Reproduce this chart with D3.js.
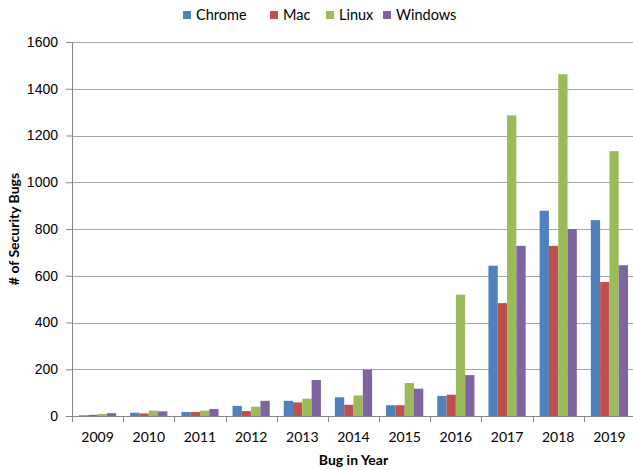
<!doctype html>
<html>
<head>
<meta charset="utf-8">
<title>Security Bugs per Year</title>
<script src="https://cdn.jsdelivr.net/npm/d3@7"></script>
<style>
body { margin: 0; background: #fff; font-family: Lato, 'Open Sans', sans-serif; }
.tick text { font-size: 14px; fill: #000; }
.axis-title { font-size: 14px; font-weight: bold; fill: #000; }
.legend text { font-size: 14.5px; fill: #000; }
</style>
</head>
<body>
<script>
// data
var years   = ['2009','2010','2011','2012','2013','2014','2015','2016','2017','2018','2019'];
var series  = ['Chrome','Mac','Linux','Windows'];
var colors  = ['#4F81BD','#C0504D','#9BBB59','#8064A2'];
var chrome  = [3, 14, 17, 43, 65, 80, 46, 86, 643, 878, 838];
var mac     = [5, 11, 17, 21, 58, 48, 46, 91, 483, 728, 573];
var linux   = [9, 23, 23, 40, 74, 88, 141, 519, 1286, 1462, 1133];
var windows = [12, 20, 30, 65, 154, 198, 117, 175, 728, 800, 645];
var yTicks  = [0, 200, 400, 600, 800, 1000, 1200, 1400, 1600];

var values = [chrome, mac, linux, windows];

var W = 633, H = 470;
var margin = {top: 42, right: -2, bottom: 54, left: 72};
var w = W - margin.left - margin.right;
var h = H - margin.top - margin.bottom;

var svg = d3.select('body').append('svg')
  .attr('width', W)
  .attr('height', H);

var g = svg.append('g')
  .attr('transform', 'translate(' + margin.left + ',' + margin.top + ')');

var x0 = d3.scaleBand()
  .domain(years)
  .range([0, w])
  .paddingInner(0)
  .paddingOuter(0);

// excel gap width 150% -> 4 bars + 1.5 bar widths per category
var barW = x0.bandwidth() / 5.5;
var x1 = d3.scaleBand()
  .domain(series)
  .range([barW * 0.75, barW * 4.75]);

var y = d3.scaleLinear()
  .domain([0, 1600])
  .range([h, 0]);

// gridlines
g.append('g')
  .selectAll('line')
  .data(yTicks.slice(1))
  .enter().append('line')
  .attr('x1', 0).attr('x2', w)
  .attr('y1', function(d) { return Math.round(y(d)) + 0.5; })
  .attr('y2', function(d) { return Math.round(y(d)) + 0.5; })
  .attr('stroke', '#A6A6A6')
  .attr('stroke-width', 1);

// bars
var groups = g.append('g').selectAll('g')
  .data(years)
  .enter().append('g')
  .attr('transform', function(d) { return 'translate(' + x0(d) + ',0)'; });

groups.selectAll('rect')
  .data(function(d, i) {
    return series.map(function(s, j) { return {s: s, j: j, v: values[j][i]}; });
  })
  .enter().append('rect')
  .attr('x', function(d) { return x1(d.s); })
  .attr('width', x1.bandwidth())
  .attr('y', function(d) { return y(d.v); })
  .attr('height', function(d) { return h - y(d.v); })
  .attr('fill', function(d) { return colors[d.j]; });

// y axis
var yAxis = d3.axisLeft(y)
  .tickValues(yTicks)
  .tickFormat(d3.format('d'))
  .tickSize(6)
  .tickPadding(8);

var ya = g.append('g').call(yAxis);
ya.select('.domain').attr('stroke', '#868686');
ya.selectAll('.tick line').attr('stroke', '#868686');

// x axis with ticks at category boundaries
var xa = g.append('g')
  .attr('transform', 'translate(0,' + h + ')');

xa.append('line')
  .attr('x1', 0).attr('x2', w)
  .attr('y1', 0.5).attr('y2', 0.5)
  .attr('stroke', '#868686');

xa.selectAll('.btick')
  .data(years)
  .enter().append('line')
  .attr('class', 'btick')
  .attr('x1', function(d) { return Math.round(x0(d)) + 0.5; })
  .attr('x2', function(d) { return Math.round(x0(d)) + 0.5; })
  .attr('y1', 0).attr('y2', 6)
  .attr('stroke', '#868686');

xa.selectAll('.tick')
  .data(years)
  .enter().append('text')
  .attr('class', 'tick')
  .attr('x', function(d) { return x0(d) + x0.bandwidth() / 2; })
  .attr('y', 26)
  .attr('text-anchor', 'middle')
  .style('font-size', '14px')
  .text(function(d) { return d; });

// axis titles
svg.append('text')
  .attr('class', 'axis-title')
  .attr('x', margin.left + w / 2)
  .attr('y', 465)
  .attr('text-anchor', 'middle')
  .text('Bug in Year');

svg.append('text')
  .attr('class', 'axis-title')
  .attr('transform', 'translate(19,' + (margin.top + h / 2) + ') rotate(-90)')
  .attr('text-anchor', 'middle')
  .text('# of Security Bugs');

// legend
var legX = [183, 270, 326, 383];
var legend = svg.append('g').attr('class', 'legend');
var item = legend.selectAll('g')
  .data(series)
  .enter().append('g')
  .attr('transform', function(d, i) { return 'translate(' + legX[i] + ',11)'; });

item.append('rect')
  .attr('width', 8).attr('height', 8)
  .attr('fill', function(d, i) { return colors[i]; });

item.append('text')
  .attr('x', 13)
  .attr('y', 9)
  .text(function(d) { return d; });
</script>
</body>
</html>
